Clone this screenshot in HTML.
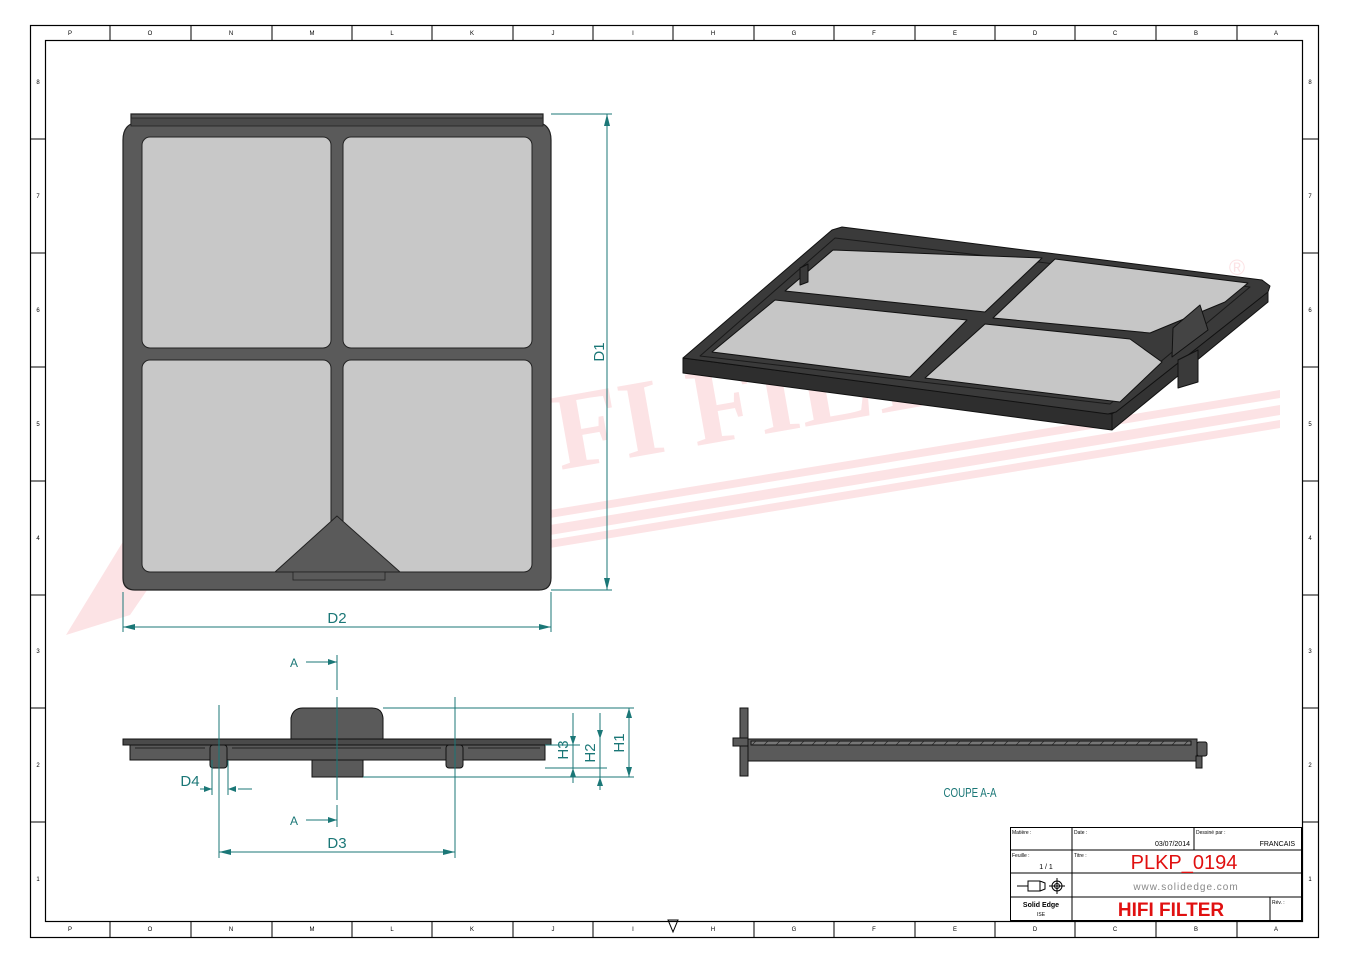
<!DOCTYPE html>
<html><head><meta charset="utf-8"><style>
html,body{margin:0;padding:0;background:#fff;}
svg{display:block;font-family:"Liberation Sans",sans-serif;}
</style></head><body>
<svg width="1350" height="964" viewBox="0 0 1350 964" xmlns="http://www.w3.org/2000/svg">
<!-- watermark -->
<g fill="#fce3e5">
<polygon points="66,635 185,440 250,440 130,615"/>
<polygon points="550,525 1280,405 1280,415 550,535"/>
<polygon points="550,540 1280,420 1280,428 550,548"/>
<polygon points="550,510 1280,390 1280,398 550,518"/>
<text x="560" y="470" font-family="Liberation Serif,serif" font-weight="bold" font-size="110" transform="rotate(-10 560 470)">FI FILTER</text>
<text x="1237" y="275" font-size="22" text-anchor="middle">®</text>
</g>
<!-- frame -->
<rect x="30.5" y="25.5" width="1288" height="912" fill="none" stroke="#000" stroke-width="1.2"/>
<rect x="45.5" y="40.5" width="1257" height="881" fill="none" stroke="#000" stroke-width="1.2"/>
<g stroke="#000" stroke-width="1">
<path d="M110 25V40M191 25V40M272 25V40M352 25V40M432 25V40M513 25V40M593 25V40M673 25V40M754 25V40M834 25V40M915 25V40M995 25V40M1075 25V40M1156 25V40M1237 25V40"/>
<path d="M110 921V937M191 921V937M272 921V937M352 921V937M432 921V937M513 921V937M593 921V937M754 921V937M834 921V937M915 921V937M995 921V937M1075 921V937M1156 921V937M1237 921V937"/>
<path d="M30 139H45M30 253H45M30 367H45M30 481H45M30 595H45M30 708H45M30 822H45"/>
<path d="M1302 139H1318M1302 253H1318M1302 367H1318M1302 481H1318M1302 595H1318M1302 708H1318M1302 822H1318"/>
</g>
<g font-size="6" fill="#000" text-anchor="middle">
<text x="70" y="35">P</text><text x="150" y="35">O</text><text x="231" y="35">N</text><text x="312" y="35">M</text><text x="392" y="35">L</text><text x="472" y="35">K</text><text x="553" y="35">J</text><text x="633" y="35">I</text><text x="713" y="35">H</text><text x="794" y="35">G</text><text x="874" y="35">F</text><text x="955" y="35">E</text><text x="1035" y="35">D</text><text x="1115" y="35">C</text><text x="1196" y="35">B</text><text x="1276" y="35">A</text>
<text x="70" y="931">P</text><text x="150" y="931">O</text><text x="231" y="931">N</text><text x="312" y="931">M</text><text x="392" y="931">L</text><text x="472" y="931">K</text><text x="553" y="931">J</text><text x="633" y="931">I</text><text x="713" y="931">H</text><text x="794" y="931">G</text><text x="874" y="931">F</text><text x="955" y="931">E</text><text x="1035" y="931">D</text><text x="1115" y="931">C</text><text x="1196" y="931">B</text><text x="1276" y="931">A</text>
<text x="38" y="84">8</text><text x="38" y="198">7</text><text x="38" y="312">6</text><text x="38" y="426">5</text><text x="38" y="540">4</text><text x="38" y="653">3</text><text x="38" y="767">2</text><text x="38" y="881">1</text>
<text x="1310" y="84">8</text><text x="1310" y="198">7</text><text x="1310" y="312">6</text><text x="1310" y="426">5</text><text x="1310" y="540">4</text><text x="1310" y="653">3</text><text x="1310" y="767">2</text><text x="1310" y="881">1</text>
</g>
<polygon points="668,920 678,920 673,932" fill="none" stroke="#000"/>
<!-- front view -->
<path d="M131 114H543V124Q551 128 551 140V578Q551 590 539 590H135Q123 590 123 578V140Q123 128 131 124Z" fill="#5a5a5a" stroke="#222" stroke-width="1.2"/>
<rect x="131" y="118" width="412" height="8" fill="#4a4a4a" stroke="#222" stroke-width="0.8"/>
<g fill="#c8c8c8" stroke="#222" stroke-width="1">
<rect x="142" y="137" width="189" height="211" rx="8"/>
<rect x="343" y="137" width="189" height="211" rx="8"/>
<rect x="142" y="360" width="189" height="212" rx="8"/>
<rect x="343" y="360" width="189" height="212" rx="8"/>
</g>
<polygon points="337,516 275,572 400,572" fill="#5a5a5a" stroke="#222"/>
<rect x="293" y="572" width="92" height="8" fill="#5a5a5a" stroke="#222" stroke-width="0.8"/>
<!-- dims front -->
<g stroke="#1b7777" stroke-width="1" fill="none">
<path d="M551 114H612M551 590H612M607 114V590M123 592V632M551 592V632M123 627H551"/>
</g>
<g fill="#1b7777">
<polygon points="607,114 604,126 610,126"/><polygon points="607,590 604,578 610,578"/>
<polygon points="123,627 135,624 135,630"/><polygon points="551,627 539,624 539,630"/>
</g>
<g fill="#1b7777" font-size="15" text-anchor="middle">
<text x="337" y="623">D2</text>
<text x="604" y="352" transform="rotate(-90 604 352)">D1</text>
</g>
<!-- side view -->
<g stroke="#111" stroke-width="1">
<path d="M291 739V718Q293 708 303 708H372Q382 708 383 718V739Z" fill="#5a5a5a"/>
<rect x="123" y="739" width="428" height="6" fill="#4a4a4a"/>
<rect x="130" y="745" width="415" height="15" fill="#5a5a5a"/>
<rect x="312" y="760" width="51" height="17" fill="#5a5a5a"/>
<rect x="210" y="745" width="17" height="23" rx="3" fill="#5a5a5a"/>
<rect x="446" y="745" width="17" height="23" rx="3" fill="#5a5a5a"/>
<path d="M135 748H205M232 748H441M468 748H540" fill="none" stroke="#222"/>
</g>
<g stroke="#1b7777" stroke-width="1" fill="none">
<path d="M337 655V690M337 697V800M337 805V827"/>
<path d="M306 662H337M306 820H337"/>
<path d="M219 705V858M455 697V858M219 852H455"/>
<path d="M200 789H212M238 789H252M212 760V795M228 760V795"/>
<path d="M383 708H634M545 745H580M545 768H607M363 777H634"/>
<path d="M573 713V783M600 713V790M629 708V777"/>
</g>
<g fill="#1b7777">
<polygon points="337,662 328,659 328,665"/><polygon points="337,820 328,817 328,823"/>
<polygon points="219,852 231,849 231,855"/><polygon points="455,852 443,849 443,855"/>
<polygon points="212,789 204,786 204,792"/><polygon points="228,789 236,786 236,792"/>
<polygon points="573,745 570,736 576,736"/><polygon points="573,768 570,777 576,777"/>
<polygon points="600,739 597,730 603,730"/><polygon points="600,777 597,786 603,786"/>
<polygon points="629,708 626,718 632,718"/><polygon points="629,777 626,767 632,767"/>
</g>
<g fill="#1b7777" font-size="15" text-anchor="middle">
<text x="337" y="848">D3</text>
<text x="190" y="786">D4</text>
<text x="568" y="750" transform="rotate(-90 568 750)">H3</text>
<text x="595" y="753" transform="rotate(-90 595 753)">H2</text>
<text x="624" y="743" transform="rotate(-90 624 743)">H1</text>
</g>
<g fill="#1b7777" font-size="12" text-anchor="middle">
<text x="294" y="667">A</text><text x="294" y="825">A</text>
</g>
<!-- section -->
<g stroke="#111" stroke-width="1" fill="#5a5a5a">
<rect x="740" y="708" width="8" height="68"/>
<rect x="733" y="738" width="15" height="8"/>
<rect x="748" y="739" width="449" height="22"/>
<rect x="1197" y="742" width="10" height="14" rx="2"/>
<rect x="1196" y="756" width="6" height="12"/>
<rect x="751" y="741" width="440" height="4" fill="#777"/>
</g>
<path d="M752 745l4-4M764 745l4-4M776 745l4-4M788 745l4-4M800 745l4-4M812 745l4-4M824 745l4-4M836 745l4-4M848 745l4-4M860 745l4-4M872 745l4-4M884 745l4-4M896 745l4-4M908 745l4-4M920 745l4-4M932 745l4-4M944 745l4-4M956 745l4-4M968 745l4-4M980 745l4-4M992 745l4-4M1004 745l4-4M1016 745l4-4M1028 745l4-4M1040 745l4-4M1052 745l4-4M1064 745l4-4M1076 745l4-4M1088 745l4-4M1100 745l4-4M1112 745l4-4M1124 745l4-4M1136 745l4-4M1148 745l4-4M1160 745l4-4M1172 745l4-4M1184 745l4-4" stroke="#222" stroke-width="0.6"/>
<text x="970" y="797" fill="#1b7777" font-size="13" text-anchor="middle" transform="translate(970 0) scale(0.75 1) translate(-970 0)">COUPE A-A</text>
<!-- isometric -->
<g stroke="#111" stroke-width="1" stroke-linejoin="round">
<polygon points="683,358 1112,414 1112,430 683,373" fill="#2e2e2e"/>
<polygon points="1112,414 1268,290 1268,302 1112,430" fill="#333"/>
<polygon points="683,358 832,230 842,227 1262,280 1270,286 1268,292 1116,412 1108,414" fill="#3a3a3a"/>
<polygon points="700,356 835,238 1250,287 1110,404" fill="none" stroke="#1a1a1a"/>
<g fill="#c6c6c6">
<polygon points="833,250 1042,258 985,312 785,291"/>
<polygon points="1055,259 1248,283 1225,302 1150,333 993,318"/>
<polygon points="775,300 967,320 910,377 712,352"/>
<polygon points="985,324 1130,339 1162,362 1120,402 925,378"/>
</g>
<polygon points="1173,328 1200,305 1208,330 1172,357" fill="#444"/>
<polygon points="1178,360 1198,350 1198,382 1178,388" fill="#3a3a3a"/>
<polygon points="800,268 808,264 808,282 800,285" fill="#3a3a3a"/>
</g>
<!-- title block -->
<g stroke="#000" stroke-width="1" fill="none">
<rect x="1010.5" y="827.5" width="291" height="93"/>
<path d="M1010 850H1302M1010 873H1302M1010 897H1302M1072 827V920M1194 827V850M1270 897V920"/>
<path d="M1017 886H1028M1028 881H1040V891H1028ZM1040 881L1045 883V889L1040 891"/>
<circle cx="1057" cy="886" r="5"/><circle cx="1057" cy="886" r="2.5"/><path d="M1049 886H1065M1057 878V894"/>
</g>
<g font-size="5" fill="#000">
<text x="1012" y="834">Matière :</text><text x="1074" y="834">Date :</text><text x="1196" y="834">Dessiné par :</text>
<text x="1012" y="857">Feuille :</text><text x="1074" y="857">Titre :</text><text x="1272" y="904">Rév. :</text>
</g>
<text x="1190" y="846" font-size="7" text-anchor="end">03/07/2014</text>
<text x="1295" y="846" font-size="7" text-anchor="end">FRANCAIS</text>
<text x="1046" y="869" font-size="7" text-anchor="middle">1 / 1</text>
<text x="1184" y="869" font-size="20" fill="#e01010" text-anchor="middle">PLKP_0194</text>
<text x="1186" y="890" font-size="10" fill="#888" text-anchor="middle" letter-spacing="1">www.solidedge.com</text>
<text x="1041" y="907" font-size="7" font-weight="bold" text-anchor="middle">Solid Edge</text>
<text x="1041" y="916" font-size="5" text-anchor="middle">ISE</text>
<text x="1171" y="916" font-size="19" font-weight="bold" fill="#e01010" text-anchor="middle">HIFI FILTER</text>
</svg>
</body></html>
